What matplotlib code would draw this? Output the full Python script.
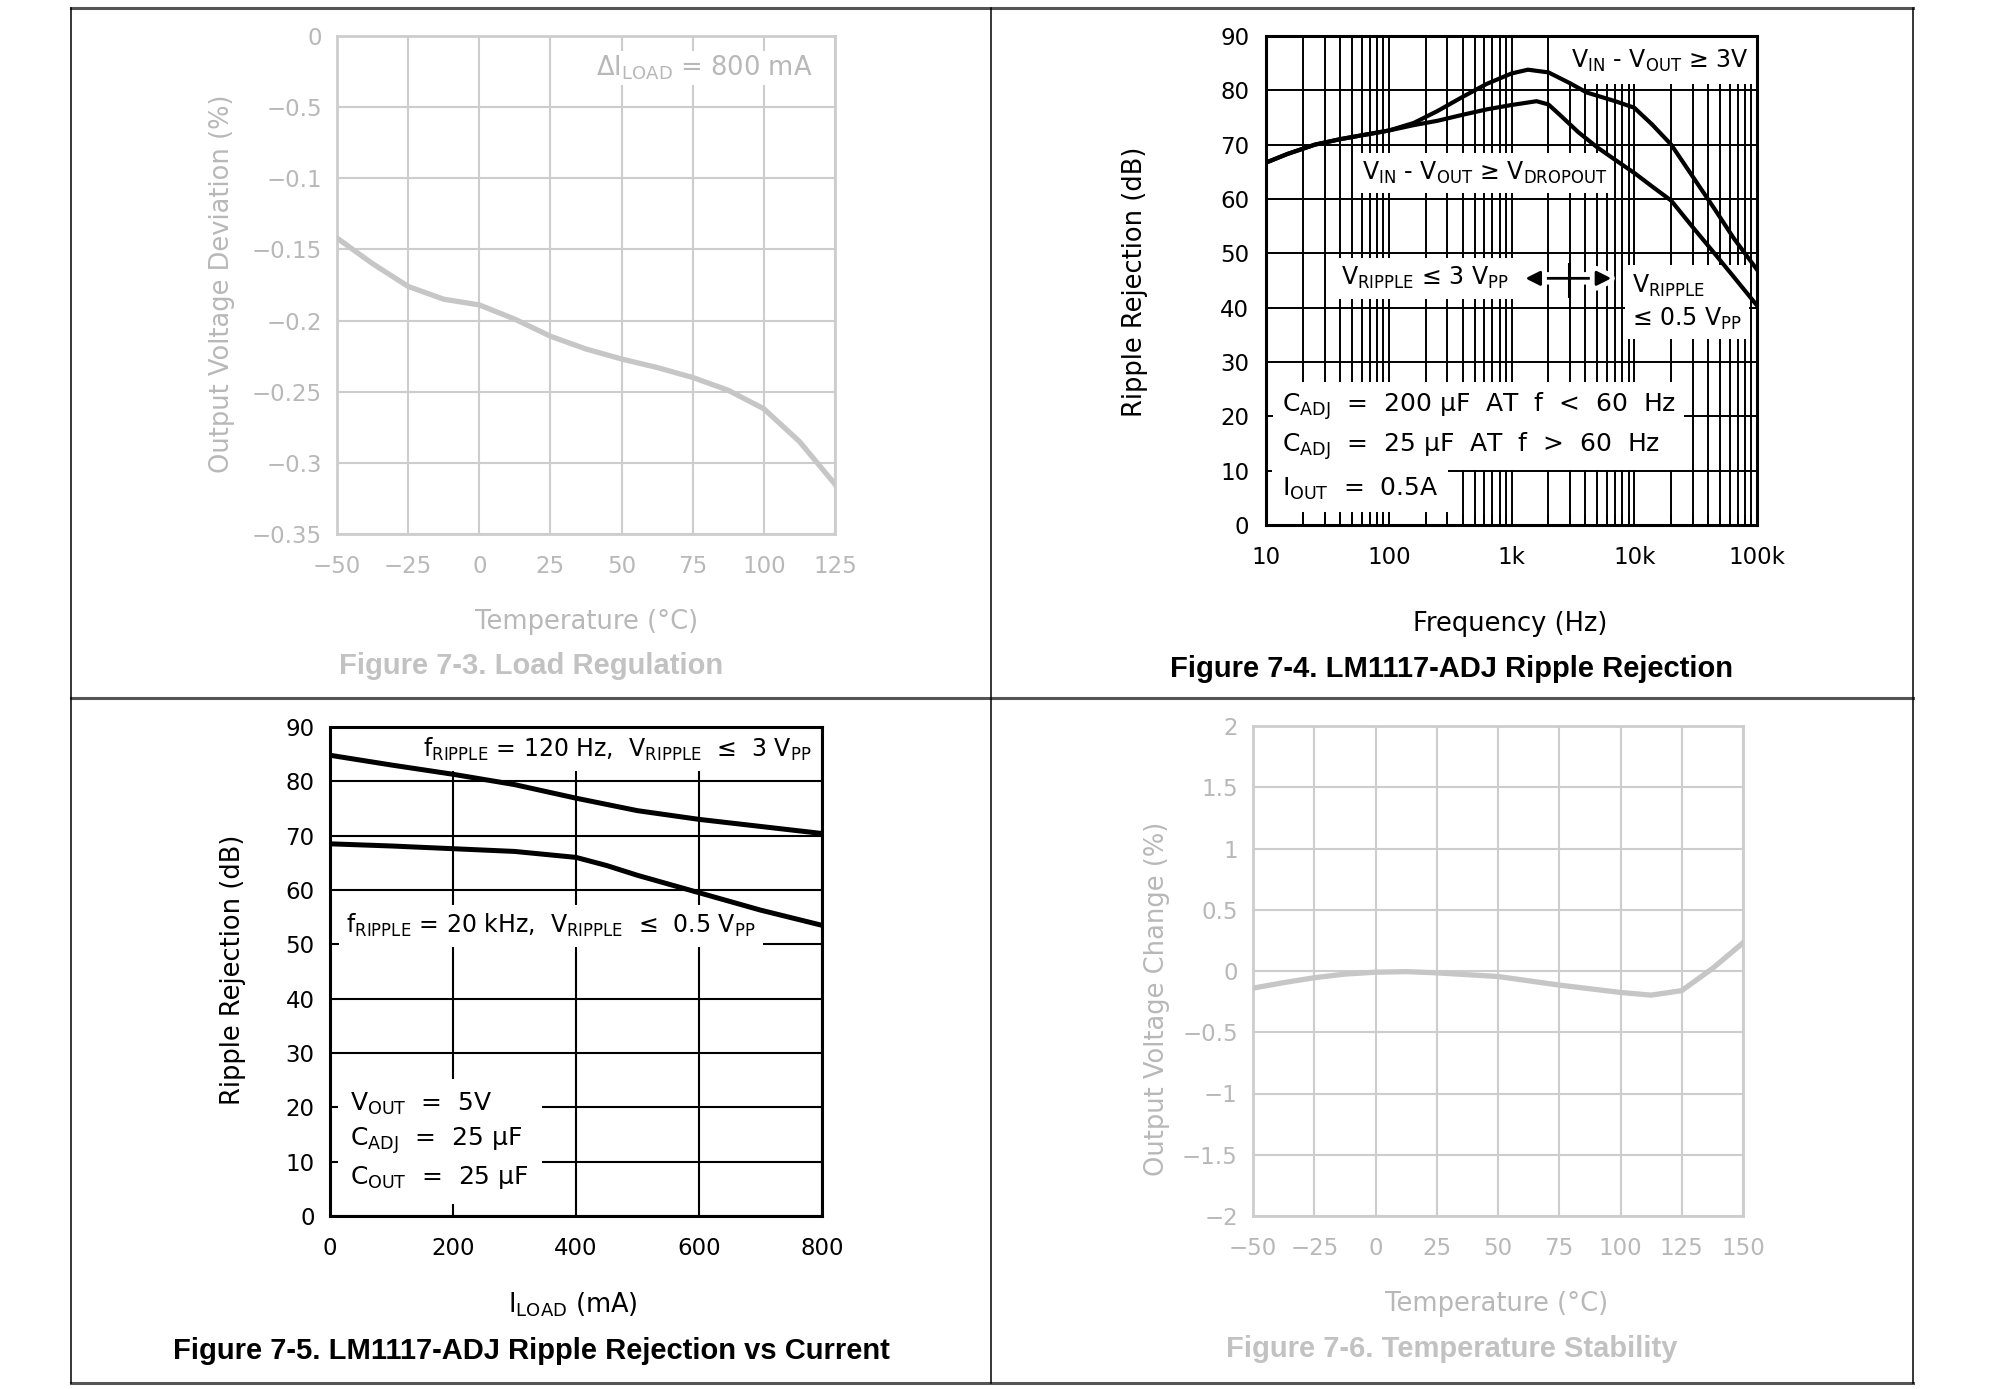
import numpy as np
import matplotlib
matplotlib.use("Agg")
import matplotlib.pyplot as plt
import matplotlib.patheffects as pe
from matplotlib.lines import Line2D
from matplotlib.ticker import LogLocator, NullFormatter

# ---- Figure 7-3: load regulation ----
load_temp = [-50, -37.5, -25, -12.5, 0, 12.5, 25, 37.5, 50, 62.5, 75, 87.5, 100, 112.5, 125]
load_dev = [-0.142, -0.160, -0.176, -0.185, -0.189, -0.199, -0.211, -0.220, -0.227,
            -0.233, -0.240, -0.249, -0.262, -0.285, -0.315]
load_xticks = [-50, -25, 0, 25, 50, 75, 100, 125]
load_xlabels = ["−50", "−25", "0", "25", "50", "75", "100", "125"]
load_yticks = [0, -0.05, -0.10, -0.15, -0.20, -0.25, -0.30, -0.35]
load_ylabels = ["0", "−0.5", "−0.1", "−0.15", "−0.2", "−0.25", "−0.3", "−0.35"]

# ---- Figure 7-4: ripple rejection vs frequency ----
freq_3v = [10, 15, 25, 40, 63, 100, 160, 250, 400, 630, 1000, 1360, 2000, 3000,
           4100, 7000, 10000, 14000, 20000, 30000, 45000, 65000, 100000]
rej_3v = [66.7, 68.3, 70.0, 71.0, 71.8, 72.6, 74.0, 76.2, 78.8, 81.2, 83.1, 83.8, 83.3,
          81.3, 79.6, 78.0, 76.8, 73.7, 70.0, 64.1, 58.2, 52.7, 47.0]
freq_drop = [10, 15, 25, 40, 63, 100, 160, 250, 400, 630, 1000, 1600, 2000, 2500, 3500,
             5000, 7000, 10000, 14000, 20000, 30000, 45000, 65000, 100000]
rej_drop = [66.7, 68.3, 70.0, 71.0, 71.8, 72.6, 73.6, 74.4, 75.5, 76.5, 77.3, 78.0, 77.4,
            75.4, 72.3, 69.5, 67.2, 64.8, 62.3, 59.7, 54.8, 50.0, 45.6, 40.4]
freq_ticks = [10, 100, 1000, 10000, 100000]
freq_labels = ["10", "100", "1k", "10k", "100k"]
rej_ticks = list(range(0, 100, 10))
arrow_hz = [1230, 6860]
arrow_db = 45.4
split_hz = 2950
split_db = [42.1, 48.0]

# ---- Figure 7-5: ripple rejection vs load current ----
iload_120 = [0, 100, 200, 300, 400, 500, 600, 700, 800]
rej_120 = [84.8, 83.0, 81.3, 79.4, 76.9, 74.6, 73.0, 71.7, 70.4]
iload_20k = [0, 100, 200, 300, 400, 450, 500, 600, 700, 800]
rej_20k = [68.5, 68.1, 67.6, 67.1, 66.0, 64.5, 62.7, 59.5, 56.3, 53.5]
iload_ticks = [0, 200, 400, 600, 800]

# ---- Figure 7-6: temperature stability ----
stab_temp = [-50, -37.5, -25, -12.5, 0, 12.5, 25, 37.5, 50, 62.5, 75, 87.5, 100,
             112.5, 125, 137.5, 150]
stab_change = [-0.14, -0.095, -0.055, -0.025, -0.01, -0.005, -0.015, -0.03, -0.045,
               -0.08, -0.115, -0.145, -0.175, -0.197, -0.16, 0.02, 0.23]
stab_xticks = [-50, -25, 0, 25, 50, 75, 100, 125, 150]
stab_xlabels = ["−50", "−25", "0", "25", "50", "75", "100", "125", "150"]
stab_yticks = [2, 1.5, 1, 0.5, 0, -0.5, -1, -1.5, -2]
stab_ylabels = ["2", "1.5", "1", "0.5", "0", "−0.5", "−1", "−1.5", "−2"]

W, H, DPI = 1993, 1389, 100
GRID_G = "#cdcdcd"
LINE_G = "#c6c6c6"
TEXT_G = "#b8b8b8"
CAP_G = "#c2c2c2"
TICK_FS = 16.5
LAB_FS = 18.5
CAP_FS = 21

plt.rcParams["font.family"] = ["DejaVu Sans"]
plt.rcParams["mathtext.fontset"] = "dejavusans"

fig = plt.figure(figsize=(W / DPI, H / DPI), dpi=DPI)
fig.patch.set_facecolor("white")


def rect(l, t, r, b):
    return [l / W, 1 - b / H, (r - l) / W, (b - t) / H]


def ftext(x, y, s, **kw):
    fig.text(x / W, 1 - y / H, s, ha="center", va="center", **kw)


def wbox(pad):
    return dict(boxstyle="square,pad=%s" % pad, fc="white", ec="none")


# table rules
for yy in [8, 698, 1383]:
    fig.add_artist(Line2D([71 / W, 1913 / W], [1 - yy / H] * 2, color="#555555", lw=2.2))
for xx in [71, 991, 1913]:
    fig.add_artist(Line2D([xx / W] * 2, [1 - 8 / H, 1 - 1383 / H], color="black", lw=1.1))


def gray_axes(r, x, y, xlim, ylim, xt, xl, yt, yl):
    ax = fig.add_axes(r)
    ax.plot(x, y, color=LINE_G, lw=3.8, zorder=4)
    ax.set_xlim(*xlim)
    ax.set_ylim(*ylim)
    ax.set_xticks(xt)
    ax.set_xticklabels(xl)
    ax.set_yticks(yt)
    ax.set_yticklabels(yl)
    ax.grid(True, color=GRID_G, lw=1.5)
    for s in ax.spines.values():
        s.set_color(GRID_G)
        s.set_linewidth(2.0)
    ax.tick_params(length=0, colors=TEXT_G, labelsize=TICK_FS)
    ax.tick_params(axis="x", pad=15)
    ax.tick_params(axis="y", pad=11)
    return ax


# ---------- Figure 7-3 ----------
ax1 = gray_axes(rect(337, 36, 835, 534), load_temp, load_dev, (-50, 125), (-0.35, 0),
                load_xticks, load_xlabels, load_yticks, load_ylabels)
ax1.text(117, -0.028, r"ΔI$_\mathregular{LOAD}$ = 800 mA", ha="right", va="baseline",
         color=TEXT_G, fontsize=LAB_FS, bbox=wbox(0.1), zorder=3)
ftext(222, 284, "Output Voltage Deviation (%)", rotation=90, color=TEXT_G, fontsize=LAB_FS)
ftext(587, 622, "Temperature (°C)", color=TEXT_G, fontsize=LAB_FS)
ftext(531, 666, "Figure 7-3. Load Regulation", color=CAP_G, fontsize=CAP_FS,
      family="Liberation Sans", weight="bold")

# ---------- Figure 7-4 ----------
ax2 = fig.add_axes(rect(1266, 36, 1757, 525))
ax2.plot(freq_3v, rej_3v, color="black", lw=3.0, zorder=4, solid_joinstyle="round")
ax2.plot(freq_drop, rej_drop, color="black", lw=3.0, zorder=4, solid_joinstyle="round")
ax2.set_xscale("log")
ax2.set_xlim(10, 100000)
ax2.set_ylim(0, 90)
ax2.set_xticks(freq_ticks)
ax2.set_xticklabels(freq_labels)
ax2.xaxis.set_minor_locator(LogLocator(base=10, subs=np.arange(2, 10)))
ax2.xaxis.set_minor_formatter(NullFormatter())
ax2.set_yticks(rej_ticks)
ax2.grid(True, which="both", axis="x", color="black", lw=1.4)
ax2.grid(True, which="major", axis="y", color="black", lw=1.4)
ax2.tick_params(which="major", length=0, labelsize=TICK_FS, colors="black")
ax2.tick_params(which="minor", axis="x", direction="in", length=7, width=1.4)
ax2.tick_params(axis="x", which="major", pad=15)
ax2.tick_params(axis="y", pad=12)
for s in ax2.spines.values():
    s.set_linewidth(2.2)
    s.set_zorder(5)

T2 = dict(fontsize=17, color="black", zorder=3)
T2b = dict(fontsize=18, color="black", zorder=3)
ax2.text(85000, 85.4, r"V$_\mathregular{IN}$ - V$_\mathregular{OUT}$ ≥ 3V", ha="right",
         va="center", bbox=wbox(0.4), **T2)
ax2.text(60, 64.8, r"V$_\mathregular{IN}$ - V$_\mathregular{OUT}$ ≥ V$_\mathregular{DROPOUT}$",
         ha="left", va="center", bbox=wbox(0.3), **T2)
ax2.text(41, 45.4, r"V$_\mathregular{RIPPLE}$ ≤ 3 V$_\mathregular{PP}$", ha="left",
         va="center", bbox=wbox(0.3), **T2)
ax2.text(9600, 41.0, "V$_\\mathregular{RIPPLE}$\n≤ 0.5 V$_\\mathregular{PP}$", ha="left",
         va="center", linespacing=1.35, bbox=wbox(0.3), **T2)
ax2.text(13.4, 18.2, "C$_\\mathregular{ADJ}$  =  200 μF  AT  f  <  60  Hz\n"
         "C$_\\mathregular{ADJ}$  =  25 μF  AT  f  >  60  Hz",
         ha="left", va="center", linespacing=1.4, bbox=wbox(0.33), **T2b)
ax2.text(13.4, 6.6, r"I$_\mathregular{OUT}$  =  0.5A", ha="left", va="center",
         bbox=wbox(0.4), **T2b)
ax2.annotate("", xy=(arrow_hz[0], arrow_db), xytext=(arrow_hz[1], arrow_db),
             arrowprops=dict(arrowstyle="<|-|>", color="black", lw=2.0, mutation_scale=22,
                             path_effects=[pe.withStroke(linewidth=9, foreground="white")]),
             zorder=3)
ax2.plot([split_hz, split_hz], split_db, color="black", lw=2.2, zorder=4)
ftext(1135, 282, "Ripple Rejection (dB)", rotation=90, color="black", fontsize=LAB_FS)
ftext(1510, 624, "Frequency (Hz)", color="black", fontsize=LAB_FS)
ftext(1452, 669, "Figure 7-4. LM1117-ADJ Ripple Rejection", color="black", fontsize=CAP_FS,
      family="Liberation Sans", weight="bold")

# ---------- Figure 7-5 ----------
ax3 = fig.add_axes(rect(330, 727, 822, 1216))
ax3.plot(iload_120, rej_120, color="black", lw=3.6, zorder=4)
ax3.plot(iload_20k, rej_20k, color="black", lw=3.6, zorder=4)
ax3.set_xlim(0, 800)
ax3.set_ylim(0, 90)
ax3.set_xticks(iload_ticks)
ax3.set_yticks(rej_ticks)
ax3.grid(True, color="black", lw=1.5)
ax3.tick_params(length=0, labelsize=TICK_FS, colors="black")
ax3.tick_params(axis="x", pad=15)
ax3.tick_params(axis="y", pad=11)
for s in ax3.spines.values():
    s.set_linewidth(2.2)
    s.set_zorder(5)
ax3.text(783, 85.9, r"f$_\mathregular{RIPPLE}$ = 120 Hz,  V$_\mathregular{RIPPLE}$  ≤  3 V$_\mathregular{PP}$",
         ha="right", va="center", bbox=wbox(0.35), **T2)
ax3.text(26, 53.4, r"f$_\mathregular{RIPPLE}$ = 20 kHz,  V$_\mathregular{RIPPLE}$  ≤  0.5 V$_\mathregular{PP}$",
         ha="left", va="center", bbox=wbox(0.3), **T2)
ax3.text(33, 13.8, "V$_\\mathregular{OUT}$  =  5V\nC$_\\mathregular{ADJ}$  =  25 μF\n"
         "C$_\\mathregular{OUT}$  =  25 μF", ha="left", va="center", linespacing=1.4,
         bbox=wbox(0.5), **T2b)
ftext(233, 970, "Ripple Rejection (dB)", rotation=90, color="black", fontsize=LAB_FS)
ftext(573, 1305, r"I$_\mathregular{LOAD}$ (mA)", color="black", fontsize=LAB_FS)
ftext(531, 1351, "Figure 7-5. LM1117-ADJ Ripple Rejection vs Current", color="black",
      fontsize=CAP_FS, family="Liberation Sans", weight="bold")

# ---------- Figure 7-6 ----------
ax4 = gray_axes(rect(1253, 726, 1743, 1216), stab_temp, stab_change, (-50, 150), (-2, 2),
                stab_xticks, stab_xlabels, stab_yticks, stab_ylabels)
ftext(1157, 999, "Output Voltage Change (%)", rotation=90, color=TEXT_G, fontsize=LAB_FS)
ftext(1497, 1304, "Temperature (°C)", color=TEXT_G, fontsize=LAB_FS)
ftext(1452, 1349, "Figure 7-6. Temperature Stability", color=CAP_G, fontsize=CAP_FS,
      family="Liberation Sans", weight="bold")

fig.savefig("out.png", dpi=DPI)
